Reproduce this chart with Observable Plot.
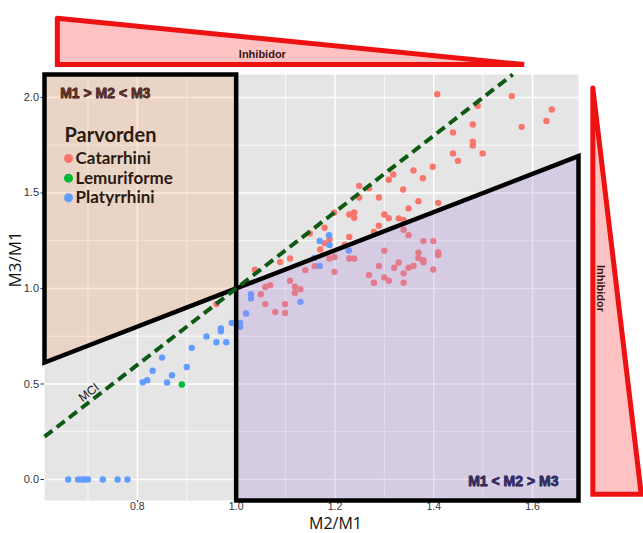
<!DOCTYPE html>
<html><head><meta charset="utf-8">
<script src="https://cdn.jsdelivr.net/npm/d3@7"></script>
<script src="https://cdn.jsdelivr.net/npm/@observablehq/plot@0.6"></script>
<style>
body{margin:0;background:#fff}
#chart svg{font-family:"Liberation Sans",Arial,sans-serif;overflow:visible}
</style>
</head><body><div id="chart"></div>
<script>
// M2/M1, M3/M1 pairs
const catarrhini = [
[1.407,2.017],[1.558,2.007],[1.639,1.937],[1.628,1.877],[1.578,1.846],[1.489,1.956],[1.479,1.858],[1.439,1.817],
[1.479,1.768],[1.479,1.748],[1.499,1.707],[1.439,1.707],[1.449,1.668],[1.398,1.637],[1.359,1.618],[1.378,1.577],
[1.318,1.597],[1.309,1.569],[1.338,1.518],[1.249,1.537],[1.269,1.524],[1.249,1.476],[1.289,1.476],[1.369,1.457],
[1.409,1.448],[1.349,1.419],[1.198,1.396],[1.229,1.387],[1.239,1.398],[1.239,1.370],[1.300,1.387],[1.309,1.368],
[1.329,1.367],[1.339,1.359],[1.289,1.328],[1.279,1.296],[1.339,1.307],[1.349,1.279],[1.179,1.318],[1.149,1.288],
[1.229,1.270],[1.220,1.229],[1.179,1.237],[1.189,1.257],[1.170,1.204],[1.379,1.248],[1.399,1.248],[1.300,1.198],
[1.369,1.187],[1.409,1.188],[1.409,1.175],[1.229,1.157],[1.239,1.157],[1.369,1.160],[1.379,1.148],[1.379,1.137],
[1.329,1.136],[1.289,1.118],[1.320,1.108],[1.349,1.108],[1.359,1.118],[1.399,1.099],[1.339,1.079],[1.269,1.070],
[1.300,1.058],[1.279,1.030],[1.309,1.040],[1.339,1.030],[1.189,1.157],[1.199,1.165],[1.199,1.087],[1.038,1.098],
[1.089,1.138],[1.109,1.157],[1.140,1.096],[1.159,1.117],[1.059,1.008],[1.069,1.017],[1.050,0.970],[1.109,1.040],
[1.119,1.009],[1.130,0.996],[1.119,0.978],[1.059,0.918],[1.099,0.918],[1.079,0.877],[1.099,0.872],[0.960,0.918]
];
const lemuriforme = [[0.890,0.497]];
const platyrrhini = [
[1.188,1.279],[1.169,1.249],[1.189,1.228],[1.158,1.160],[1.169,1.118],[1.228,1.199],[1.030,0.970],[1.030,0.948],
[1.020,0.869],[1.130,0.930],[0.991,0.820],[1.008,0.820],[1.008,0.799],[1.001,0.808],[0.969,0.791],[0.969,0.776],
[0.940,0.749],[0.960,0.719],[0.980,0.719],[0.910,0.689],[0.850,0.638],[0.900,0.589],[0.831,0.569],[0.870,0.546],
[0.820,0.520],[0.811,0.509],[0.860,0.508],
[0.660,0],[0.680,0],[0.688,0],[0.694,0],[0.700,0],[0.730,0],[0.760,0],[0.780,0]
];
const categories = ["Catarrhini","Lemuriforme","Platyrrhini"];
const colors = ["#F8766D","#00BA38","#619CFF"];
const xTicks = [0.8,1.0,1.2,1.4,1.6];
const yTicks = [0,0.5,1.0,1.5,2.0];
const xMinor = [0.7,0.9,1.1,1.3,1.5];
const yMinor = [0.25,0.75,1.25,1.75];
const xDomain = [0.612,1.693];
const yDomain = [-0.11,2.12];
const regionLabels = ["M1 > M2 < M3","M1 < M2 > M3"];

const points = [
  ...catarrhini.map(([x,y]) => ({x,y,group:categories[0]})),
  ...lemuriforme.map(([x,y]) => ({x,y,group:categories[1]})),
  ...platyrrhini.map(([x,y]) => ({x,y,group:categories[2]}))
];
const [x0,x1] = xDomain, [y0,y1] = yDomain;
// regions split by the line M3/M1 = M2/M1 and the vertical M2/M1 = 1
const ulPoly = [[x0,y1],[1,y1],[1,1],[x0,x0],[x0,y1]];
const lrPoly = [[1,1],[1,y0],[x1,y0],[x1,x1],[1,1]];
// inhibitory cascade: M3/M1 = 2*(M2/M1) - 1
const mciX = [x0,(y1+1)/2];
// decorative wedges (data units, outside the panel)
const topWedge = [[0.638,2.415],[1.583,2.172],[0.638,2.172],[0.638,2.415]];
const rightWedge = [[1.722,2.049],[1.820,-0.077],[1.722,-0.077],[1.722,2.049]];

const chart = Plot.plot({
  width: 643, height: 533,
  marginLeft: 44, marginRight: 65, marginTop: 74, marginBottom: 33,
  x: {domain: xDomain, label: null},
  y: {domain: yDomain, label: null},
  color: {domain: categories, range: colors},
  style: {fontFamily: "Liberation Sans, Arial, sans-serif", background: "white", overflow: "visible"},
  marks: [
    Plot.frame({fill: "#e5e5e5", stroke: null}),
    Plot.gridX(xMinor, {stroke: "#fff", strokeOpacity: 1, strokeWidth: 0.8}),
    Plot.gridY(yMinor, {stroke: "#fff", strokeOpacity: 1, strokeWidth: 0.8}),
    Plot.gridX(xTicks, {stroke: "#fff", strokeOpacity: 1, strokeWidth: 1.5}),
    Plot.gridY(yTicks, {stroke: "#fff", strokeOpacity: 1, strokeWidth: 1.5}),
    Plot.axisX(xTicks, {tickFormat: d3.format(".1f"), tickSize: 2, tickPadding: 0, fontSize: 10.5, fill: "#333", stroke: "#333"}),
    Plot.axisY(yTicks, {tickFormat: d3.format(".1f"), tickSize: 3.5, tickPadding: 2, fontSize: 11, fill: "#333", stroke: "#333"}),
    Plot.dot(points, {x: "x", y: "y", fill: "group", r: 3.2}),
    Plot.areaY([x0,1], {x: d => d, y1: d => d, y2: () => y1, fill: "#fda571", fillOpacity: 0.26}),
    Plot.areaY([1,x1], {x: d => d, y1: () => y0, y2: d => d, fill: "#a989e1", fillOpacity: 0.27}),
    Plot.line(ulPoly, {x: d => d[0], y: d => d[1], stroke: "#000", strokeWidth: 4.5, strokeLinejoin: "miter", strokeLinecap: "square", strokeMiterlimit: 10}),
    Plot.line(lrPoly, {x: d => d[0], y: d => d[1], stroke: "#000", strokeWidth: 4.5, strokeLinejoin: "miter", strokeLinecap: "square", strokeMiterlimit: 10}),
    Plot.line(mciX, {x: d => d, y: d => 2*d - 1, stroke: "#0e5a12", strokeWidth: 4, strokeDasharray: "10,5.5", strokeLinecap: "butt"}),
    Plot.text(["MCI"], {x: () => 0.702, y: () => 0.455, text: d => d, rotate: -37.7, fontSize: 12, fill: "#111"}),
    Plot.text([regionLabels[0]], {x: () => 0.735, y: () => 2.022, text: d => d, fontSize: 14, fontWeight: "bold", fill: "#5e2e2a", stroke: "#2a0e0c", strokeWidth: 0.8}),
    Plot.text([regionLabels[1]], {x: () => 1.561, y: () => -0.009, text: d => d, fontSize: 14, fontWeight: "bold", fill: "#332c66", stroke: "#16123a", strokeWidth: 0.8}),
    // legend
    Plot.text(["Parvorden"], {x: () => 0.6525, y: () => 1.80, text: d => d, textAnchor: "start", fontSize: 20, fontWeight: "bold", fontFamily: "Lato", fill: "#2b1a10"}),
    Plot.dot(categories, {x: () => 0.6606, y: (d,i) => 1.68 - i*0.1025, fill: d => d, r: 4.5}),
    Plot.text(categories, {x: () => 0.675, y: (d,i) => 1.68 - i*0.1025, text: d => d, textAnchor: "start", fontSize: 17, fontWeight: "bold", fontFamily: "Lato", fill: "#2b1a10"}),
    // axis titles
    Plot.text(["M2/M1"], {frameAnchor: "bottom", dx: 24, dy: 28, text: d => d, fontSize: 16, fontFamily: "Open Sans", fill: "#111"}),
    Plot.text(["M3/M1"], {frameAnchor: "left", dx: -29, text: d => d, rotate: -90, fontSize: 17, fontFamily: "Open Sans", fill: "#111"}),
    // inhibitor wedges
    Plot.line(topWedge, {x: d => d[0], y: d => d[1], fill: "#ffc2c2", stroke: "#ee1111", strokeWidth: 5, strokeLinejoin: "miter", strokeMiterlimit: 10}),
    Plot.line(rightWedge, {x: d => d[0], y: d => d[1], fill: "#ffc2c2", stroke: "#ee1111", strokeWidth: 5, strokeLinejoin: "miter", strokeMiterlimit: 10}),
    Plot.text(["Inhibidor"], {x: () => 1.053, y: () => 2.227, text: d => d, fontSize: 11, fontWeight: "bold", fill: "#3a1414"}),
    Plot.text(["Inhibidor"], {x: () => 1.737, y: () => 1.0, text: d => d, rotate: 90, fontSize: 11, fontWeight: "bold", fill: "#3a1414"})
  ]
});
document.getElementById("chart").appendChild(chart);
</script>
</body></html>
